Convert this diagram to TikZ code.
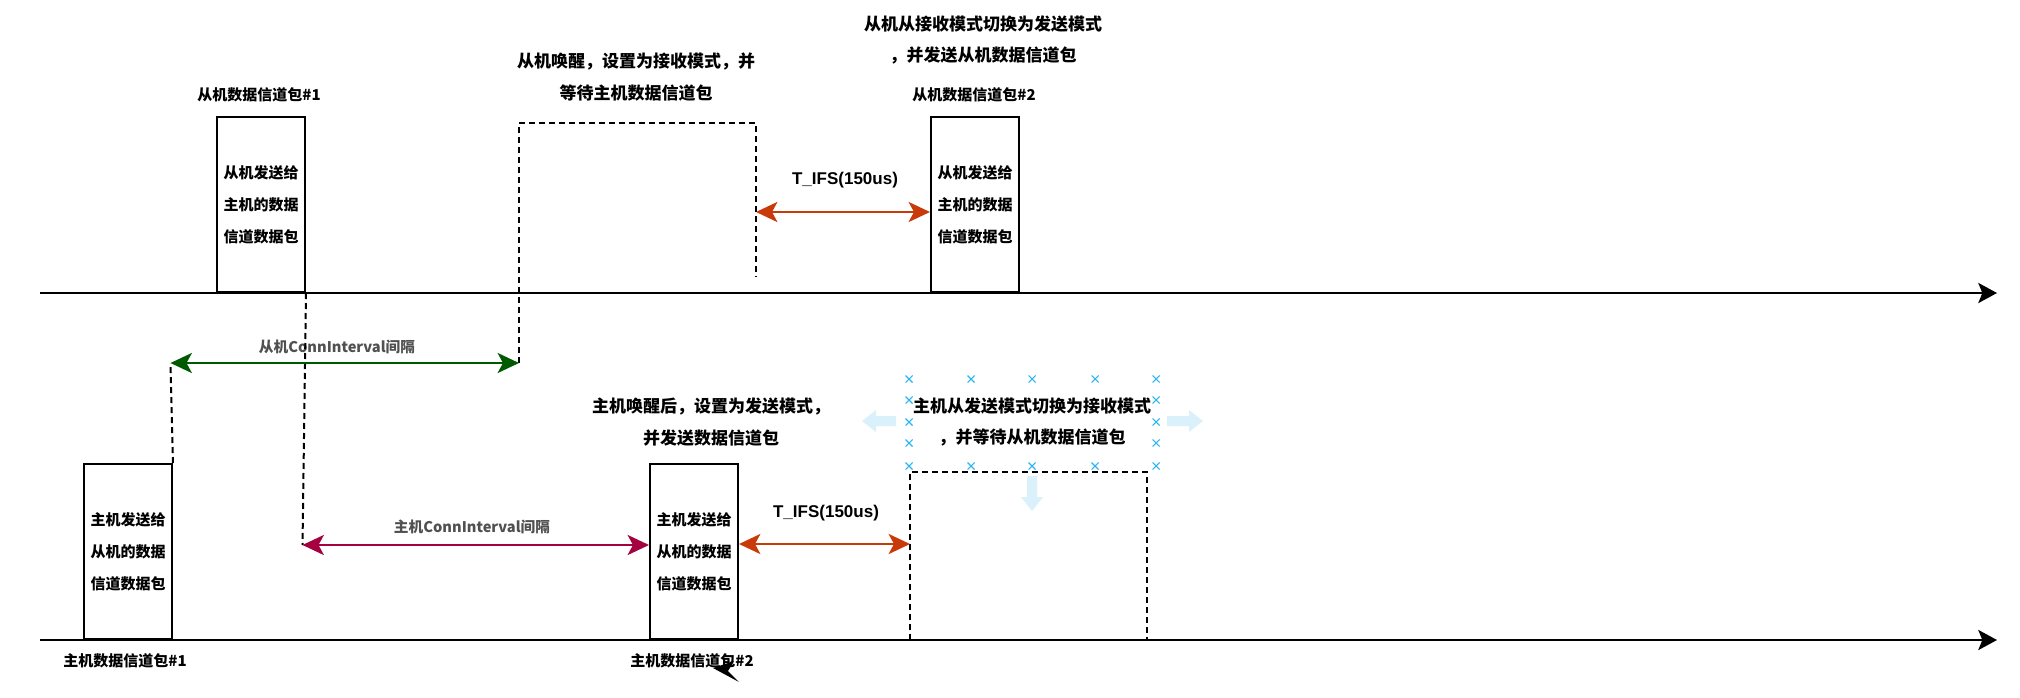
\documentclass[tikz,border=0pt]{standalone}
\usepackage{fontspec}
\setmainfont{Liberation Sans}
\newfontfamily\cjk{Noto Sans CJK SC}
\usetikzlibrary{arrows.meta}
\definecolor{ifsc}{RGB}{200,58,10}
\definecolor{grn}{RGB}{0,90,0}
\definecolor{mag}{RGB}{165,0,64}
\definecolor{hdl}{RGB}{41,182,242}
\definecolor{ghost}{RGB}{218,240,251}
\definecolor{lbl}{RGB}{80,80,80}
\begin{document}
\begin{tikzpicture}[x=0.75pt,y=-0.75pt,
  pkt/.style={draw, line width=1.5pt, inner sep=0pt, minimum width=66pt, minimum height=131.25pt,
    align=center, font={\cjk\bfseries\fontsize{11.25pt}{24pt}\selectfont}},
  capt/.style={align=center, inner sep=0pt, font={\cjk\bfseries\fontsize{12.75pt}{23.5pt}\selectfont}},
  tagtxt/.style={inner sep=0pt, font={\cjk\bfseries\fontsize{11.25pt}{14pt}\selectfont}},
  gaplbl/.style={inner sep=0pt, text=lbl, font={\cjk\bfseries\fontsize{11pt}{14pt}\selectfont}},
  ifslbl/.style={inner sep=0pt, font={\bfseries\fontsize{12.75pt}{15pt}\selectfont}},
  timeaxis/.style={line width=2pt, -{Stealth[length=14pt,width=15pt,inset=3pt]}},
  dsh/.style={line width=1.5pt, dash pattern=on 4.5pt off 3pt},
  dimarrow/.style={line width=2pt, {Stealth[length=16pt,width=15pt,inset=4pt]}-{Stealth[length=16pt,width=15pt,inset=4pt]}},
  hcross/.style={draw=hdl, line width=0.8pt},
]
\useasboundingbox (0,0) rectangle (2020,697);

% time axes
\coordinate (ta0) at (40,293);
\coordinate (ta1) at (1997,293);
\coordinate (ba0) at (40,640);
\coordinate (ba1) at (1997,640);
\draw[timeaxis] (ta0) -- (ta1);
\draw[timeaxis] (ba0) -- (ba1);

% packets
\node[pkt, anchor=south west] (s1) at (216,293) {从机发送给\\主机的数据\\信道数据包};
\node[pkt, anchor=south west] (s2) at (930,293) {从机发送给\\主机的数据\\信道数据包};
\node[pkt, anchor=south west] (m1) at (83,640) {主机发送给\\从机的数据\\信道数据包};
\node[pkt, anchor=south west] (m2) at (649,640) {主机发送给\\从机的数据\\信道数据包};

% labels
\node[tagtxt] (ls1) at (259,95) {从机数据信道包\#1};
\node[tagtxt] (ls2) at (974,95) {从机数据信道包\#2};
\node[tagtxt] (lm1) at (125,661) {主机数据信道包\#1};
\node[tagtxt] (lm2) at (692,661) {主机数据信道包\#2};
\node[capt] (wake) at (636,77) {从机唤醒，设置为接收模式，并\\等待主机数据信道包};
\node[capt] (sw1) at (983,40) {从机从接收模式切换为发送模式\\，并发送从机数据信道包};
\node[capt] (mwake) at (711,422) {主机唤醒后，设置为发送模式，\\并发送数据信道包};
\node[capt] (sw2) at (1032,422) {主机从发送模式切换为接收模式\\，并等待从机数据信道包};
\node[ifslbl] (ifs1) at (845,180) {T\_IFS(150us)};
\node[ifslbl] (ifs2) at (826,513) {T\_IFS(150us)};
\node[gaplbl] (gi1) at (337,347) {从机ConnInterval间隔};
\node[gaplbl] (gi2) at (472,527) {主机ConnInterval间隔};

% dashed receive windows
\coordinate (rx1a) at (519,123);
\coordinate (rx1b) at (756,123);
\coordinate (rx1c) at (756,277);
\coordinate (rx2a) at (910,472);
\coordinate (rx2b) at (1147,472);
\coordinate (rx2c) at (1147,640);
\coordinate (rx2d) at (910,640);
\coordinate (g1) at (170.5,363);
\coordinate (g2) at (519,363);
\coordinate (p1) at (302.5,545);
\draw[dsh] (g2) -- (rx1a) -- (rx1b) -- (rx1c);
\draw[dsh] (rx2d) -- (rx2a) -- (rx2b) -- (rx2c);
\draw[dsh] (m1.north east) -- (g1);
\draw[dsh] (s1.south east) -- (p1);

% interval arrows
\draw[dimarrow, grn] (g1) -- (g2);
\draw[dimarrow, mag] (p1) -- (p1 -| m2.west);
\draw[dimarrow, ifsc] (756,212) -- (756,212 -| s2.west);
\draw[dimarrow, ifsc] (m2.east |- 0,544) -- (910,544);

% selection handles (as shown)
\foreach \hx in {909,971,1032,1095,1156} {
  \foreach \hy in {379,466} {
    \draw[hcross] (\hx-3.5,\hy-3.5) -- (\hx+3.5,\hy+3.5) (\hx-3.5,\hy+3.5) -- (\hx+3.5,\hy-3.5);
  }
}
\foreach \hx in {909,1156} {
  \foreach \hy in {400,422,443} {
    \draw[hcross] (\hx-3.5,\hy-3.5) -- (\hx+3.5,\hy+3.5) (\hx-3.5,\hy+3.5) -- (\hx+3.5,\hy-3.5);
  }
}
\fill[ghost] (862,421) -- (876,410) -- (876,416) -- (896,416) -- (896,426) -- (876,426) -- (876,432) -- cycle;
\fill[ghost] (1203,421) -- (1189,410) -- (1189,416) -- (1167,416) -- (1167,426) -- (1189,426) -- (1189,432) -- cycle;
\fill[ghost] (1032,511) -- (1021,497) -- (1027,497) -- (1027,476) -- (1037,476) -- (1037,497) -- (1043,497) -- cycle;

% stray arrow tip
\fill[black] (713,668) -- (734,661) -- (728,671) -- (739,682) -- cycle;
\end{tikzpicture}
\end{document}
